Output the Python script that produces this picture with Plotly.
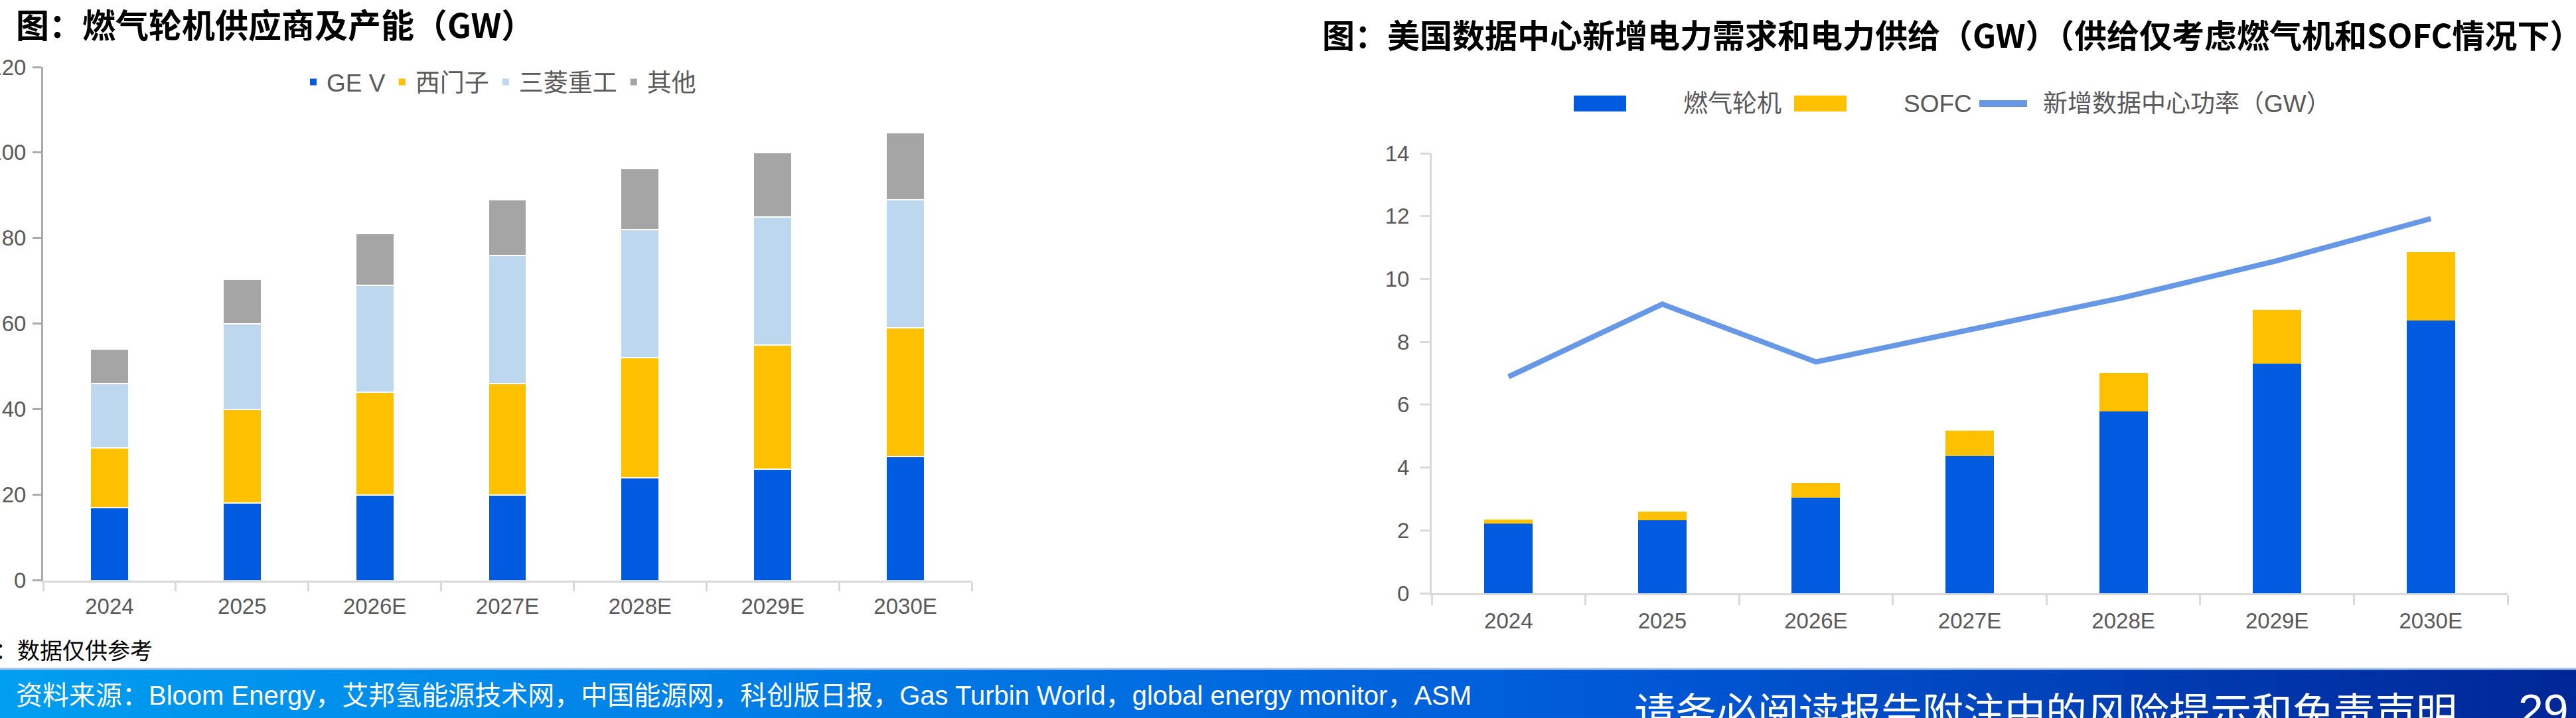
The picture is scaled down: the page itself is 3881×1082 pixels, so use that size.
import plotly.graph_objects as go

W, H = 3881, 1082

# ---------------- data ----------------
categories = ["2024", "2025", "2026E", "2027E", "2028E", "2029E", "2030E"]

left_names = ["GE V", "西门子", "三菱重工", "其他"]
left_gev = [17, 18, 20, 20, 24, 26, 29]
left_siemens = [14, 22, 24, 26, 28, 29, 30]
left_mhi = [15, 20, 25, 30, 30, 30, 30]
left_other = [8, 10.3, 12, 13, 14.2, 15, 15.6]
left_ticks = [0, 20, 40, 60, 80, 100, 120]

right_names = ["燃气轮机", "SOFC", "新增数据中心功率（GW）"]
right_gas = [2.22, 2.33, 3.05, 4.37, 5.79, 7.30, 8.68]
right_sofc = [0.12, 0.27, 0.46, 0.81, 1.22, 1.71, 2.17]
right_demand = [6.89, 9.20, 7.36, 8.37, 9.41, 10.58, 11.92]
right_ticks = [0, 2, 4, 6, 8, 10, 12, 14]

left_title = "图：燃气轮机供应商及产能（GW）"
right_title = "图：美国数据中心新增电力需求和电力供给（GW）（供给仅考虑燃气机和SOFC情况下）"
note_text = "：数据仅供参考"
source_text = ("资料来源：Bloom Energy，艾邦氢能源技术网，中国能源网，科创版日报，"
               "Gas Turbin World，global energy monitor，ASM")
disclaimer_text = "请务必阅读报告附注中的风险提示和免责声明"
page_no = "29"

# ---------------- style ----------------
BLUE = "#005BE0"
YELLOW = "#FFC000"
LIGHT = "#BDD7EE"
GRAY = "#A5A5A5"
LINE = "#6698E6"
TXT = "#595959"
FONT = "Liberation Sans, Arial, Noto Sans CJK SC, sans-serif"
CJK = "Noto Sans CJK SC, sans-serif"


def px(x):
    return x / W


def py(y):
    return 1 - y / H


fig = go.Figure()

left_vals = [left_gev, left_siemens, left_mhi, left_other]
left_cols = [BLUE, YELLOW, LIGHT, GRAY]
for name, vals, col in zip(left_names, left_vals, left_cols):
    fig.add_trace(go.Bar(
        x=categories, y=vals, name=name, xaxis="x", yaxis="y",
        marker=dict(color=col, line=dict(color="white", width=2)),
        width=0.29, legend="legend", hoverinfo="skip"))

fig.add_trace(go.Bar(
    x=categories, y=right_gas, name=right_names[0], xaxis="x2", yaxis="y2",
    marker=dict(color=BLUE, line=dict(width=0)), width=0.315,
    showlegend=False, hoverinfo="skip"))
fig.add_trace(go.Bar(
    x=categories, y=right_sofc, name=right_names[1], xaxis="x2", yaxis="y2",
    marker=dict(color=YELLOW, line=dict(width=0)), width=0.315,
    showlegend=False, hoverinfo="skip"))
fig.add_trace(go.Scatter(
    x=categories, y=right_demand, name=right_names[2], xaxis="x2", yaxis="y2",
    mode="lines", line=dict(color=LINE, width=8),
    showlegend=False, hoverinfo="skip"))

axis_common = dict(showgrid=False, zeroline=False, automargin=False,
                   fixedrange=True,
                   tickfont=dict(family=FONT, size=33, color=TXT))

fig.update_layout(
    width=W, height=H,
    margin=dict(l=0, r=0, t=0, b=0),
    paper_bgcolor="white", plot_bgcolor="white",
    barmode="stack",
    xaxis=dict(domain=[px(65), px(1464)], anchor="y", type="category",
               showline=True, linecolor="#D9D9D9", linewidth=3,
               ticks="outside", tickson="boundaries", ticklen=13,
               tickcolor="#D9D9D9", tickwidth=3, ticklabelstandoff=8,
               **axis_common),
    yaxis=dict(domain=[py(874.5), py(101)], anchor="x", range=[0, 120],
               tickvals=left_ticks, showline=True, linecolor="#ABABAB",
               linewidth=3, ticks="outside", ticklen=13, tickcolor="#ABABAB",
               tickwidth=3, ticklabelstandoff=3, **axis_common),
    xaxis2=dict(domain=[px(2157), px(3778)], anchor="y2", type="category",
                showline=True, linecolor="#D9D9D9", linewidth=3,
                ticks="outside", tickson="boundaries", ticklen=15,
                tickcolor="#D9D9D9", tickwidth=3, ticklabelstandoff=10,
                **axis_common),
    yaxis2=dict(domain=[py(894), py(231)], anchor="x2", range=[0, 14],
                tickvals=right_ticks, showline=True, linecolor="#D9D9D9",
                linewidth=3, ticks="outside", ticklen=14, tickcolor="#D9D9D9",
                tickwidth=3, ticklabelstandoff=10, **axis_common),
    legend=dict(orientation="h", x=px(452), y=py(124), xanchor="left",
                yanchor="middle", font=dict(family=FONT, size=37, color=TXT),
                bgcolor="rgba(0,0,0,0)", traceorder="normal",
                itemclick=False, itemdoubleclick=False),
    showlegend=True,
)

shapes = []
annotations = []

# ---- banner gradient ----
stops = [(0.0, (0, 158, 240)), (0.35, (0, 120, 228)), (0.62, (0, 90, 216)),
         (1.0, (0, 38, 150))]


def grad(t):
    for (t0, c0), (t1, c1) in zip(stops[:-1], stops[1:]):
        if t0 <= t <= t1:
            f = (t - t0) / (t1 - t0)
            return "rgb(%d,%d,%d)" % tuple(round(a + (b - a) * f) for a, b in zip(c0, c1))
    return "rgb(0,38,150)"


N = 120
for i in range(N):
    x0 = i / N
    x1 = (i + 1) / N + 0.0005
    shapes.append(dict(type="rect", xref="paper", yref="paper",
                       x0=x0, x1=x1, y0=0, y1=py(1009),
                       fillcolor=grad((i + 0.5) / N), line=dict(width=0),
                       layer="below"))
shapes.append(dict(type="line", xref="paper", yref="paper", x0=0, x1=1,
                   y0=py(1008), y1=py(1008),
                   line=dict(color="#A9C4EA", width=3)))

# ---- right manual legend ----
legend_y = 156
shapes.append(dict(type="rect", xref="paper", yref="paper",
                   x0=px(2371), x1=px(2450), y0=py(168), y1=py(144),
                   fillcolor=BLUE, line=dict(width=0)))
shapes.append(dict(type="rect", xref="paper", yref="paper",
                   x0=px(2703), x1=px(2782), y0=py(168), y1=py(144),
                   fillcolor=YELLOW, line=dict(width=0)))
shapes.append(dict(type="line", xref="paper", yref="paper",
                   x0=px(2982), x1=px(3054), y0=py(legend_y), y1=py(legend_y),
                   line=dict(color=LINE, width=10)))
for txt, x in zip(right_names, [2534, 2866, 3076]):
    annotations.append(dict(text=txt, x=px(x), y=py(legend_y), xref="paper",
                            yref="paper", xanchor="left", yanchor="middle",
                            showarrow=False,
                            font=dict(family=FONT, size=37, color=TXT)))

# ---- titles & notes ----
annotations.append(dict(text=left_title, x=px(22), y=py(35), xref="paper",
                        yref="paper", xanchor="left", yanchor="middle",
                        showarrow=False,
                        font=dict(family=CJK, size=50, color="black", weight=700)))
annotations.append(dict(text=right_title, x=px(1990), y=py(50), xref="paper",
                        yref="paper", xanchor="left", yanchor="middle",
                        showarrow=False,
                        font=dict(family=CJK, size=49, color="black", weight=700)))
annotations.append(dict(text=note_text, x=px(-10), y=py(978), xref="paper",
                        yref="paper", xanchor="left", yanchor="middle",
                        showarrow=False,
                        font=dict(family=CJK, size=34, color="black")))
annotations.append(dict(text=source_text, x=px(22), y=py(1048), xref="paper",
                        yref="paper", xanchor="left", yanchor="middle",
                        showarrow=False,
                        font=dict(family=FONT, size=40, color="white")))
annotations.append(dict(text=disclaimer_text, x=px(2460), y=py(1070),
                        xref="paper", yref="paper", xanchor="left",
                        yanchor="middle", showarrow=False,
                        font=dict(family=CJK, size=62, color="white")))
annotations.append(dict(text=page_no, x=px(3792), y=py(1070), xref="paper",
                        yref="paper", xanchor="left", yanchor="middle",
                        showarrow=False,
                        font=dict(family=FONT, size=68, color="white")))

fig.update_layout(shapes=shapes, annotations=annotations)

fig.write_html("out.html", config=dict(displayModeBar=False, staticPlot=True))
